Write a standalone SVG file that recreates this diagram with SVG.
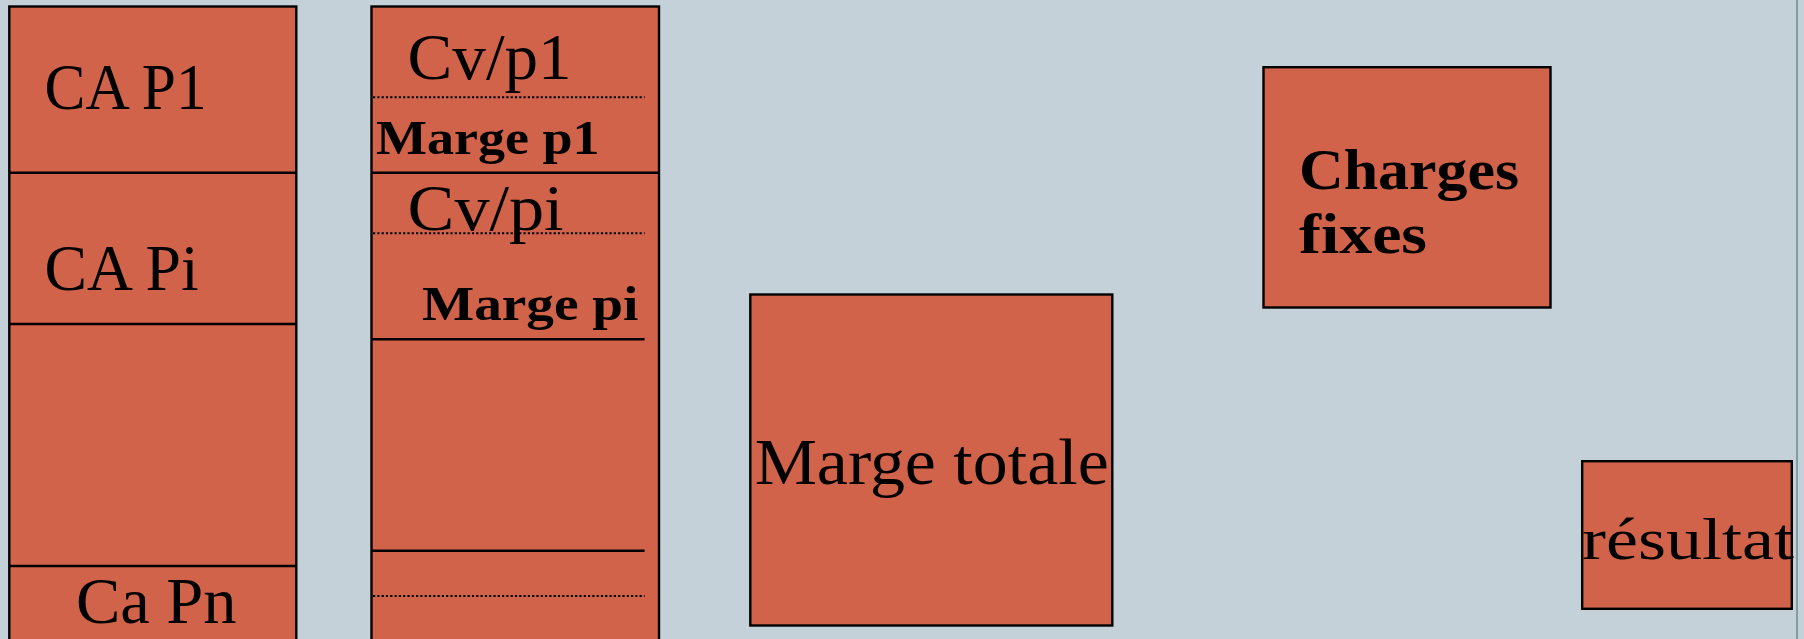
<svg xmlns="http://www.w3.org/2000/svg" width="1804" height="639" viewBox="0 0 1804 639">
<style>
.box{fill:#D0634A;stroke:#000;stroke-width:2.4}
.sep{stroke:#000;stroke-width:2.4;fill:none}
.dot{stroke:#000;stroke-width:2;stroke-dasharray:2.2 2.1;fill:none}
.t{font-family:"Liberation Serif","Times New Roman",serif;fill:#000}
.b{font-family:"Liberation Serif","Times New Roman",serif;font-weight:bold;fill:#000}
</style>
<rect x="0" y="0" width="1804" height="639" fill="#C5D1D8"/>
<line x1="1797" y1="0" x2="1797" y2="639" stroke="#7F9DA3" stroke-width="2"/>
<g id="ca-column">
<rect class="box" x="9.3" y="6.5" width="287" height="700"/>
<line class="sep" x1="9.3" y1="172.7" x2="296.3" y2="172.7"/>
<line class="sep" x1="9.3" y1="324" x2="296.3" y2="324"/>
<line class="sep" x1="9.3" y1="566" x2="296.3" y2="566"/>
<text class="t" x="44.6" y="109" font-size="66" textLength="162" lengthAdjust="spacingAndGlyphs">CA P1</text>
<text class="t" x="44.6" y="290" font-size="66" textLength="154" lengthAdjust="spacingAndGlyphs">CA Pi</text>
<text class="t" x="75.9" y="622.7" font-size="66" textLength="160.7" lengthAdjust="spacingAndGlyphs">Ca Pn</text>
</g>
<g id="cv-column">
<rect class="box" x="371.5" y="6.5" width="287.5" height="700"/>
<line class="sep" x1="371.5" y1="172.7" x2="659" y2="172.7"/>
<line class="sep" x1="372" y1="339.3" x2="644.6" y2="339.3"/>
<line class="sep" x1="372" y1="550.7" x2="644.6" y2="550.7"/>
<line class="dot" x1="373" y1="97.3" x2="644.6" y2="97.3"/>
<line class="dot" x1="373" y1="233.3" x2="644.6" y2="233.3"/>
<line class="dot" x1="373" y1="596" x2="644.6" y2="596"/>
<text class="t" x="407.6" y="79.3" font-size="66" textLength="164" lengthAdjust="spacingAndGlyphs">Cv/p1</text>
<text class="b" x="376" y="154" font-size="49" textLength="223.6" lengthAdjust="spacingAndGlyphs">Marge p1</text>
<text class="t" x="407.6" y="230" font-size="66" textLength="156" lengthAdjust="spacingAndGlyphs">Cv/pi</text>
<text class="b" x="422" y="320" font-size="49" textLength="216.5" lengthAdjust="spacingAndGlyphs">Marge pi</text>
</g>
<g id="marge-totale">
<rect class="box" x="750.3" y="294.5" width="362" height="331"/>
<text class="t" x="754.7" y="484" font-size="66" textLength="354" lengthAdjust="spacingAndGlyphs">Marge totale</text>
</g>
<g id="charges-fixes">
<rect class="box" x="1263.5" y="67.2" width="287" height="240.3"/>
<text class="b" x="1299" y="189" font-size="56" textLength="220" lengthAdjust="spacingAndGlyphs">Charges</text>
<text class="b" x="1299" y="252.5" font-size="56" textLength="128" lengthAdjust="spacingAndGlyphs">fixes</text>
</g>
<g id="resultat">
<rect class="box" x="1582.2" y="461.2" width="209.6" height="147.6"/>
<text class="t" x="1582" y="559" font-size="60" textLength="212" lengthAdjust="spacingAndGlyphs">résultat</text>
</g>
<g id="connectors"></g>
</svg>
